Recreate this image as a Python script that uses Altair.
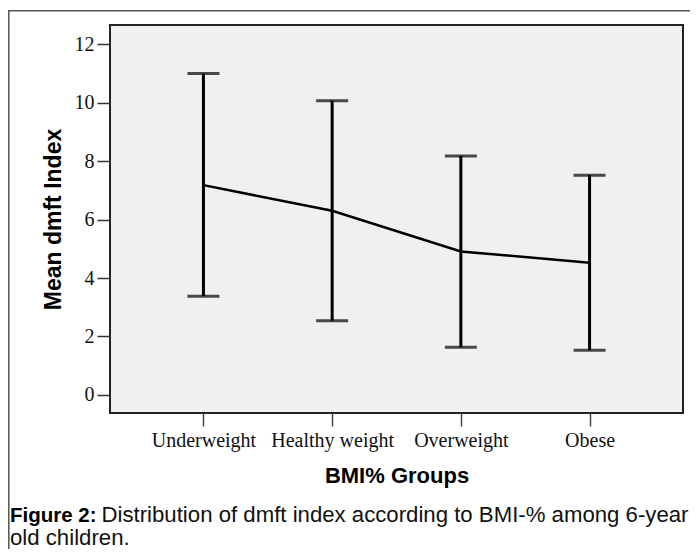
import altair as alt
import pandas as pd

groups = ["Underweight", "Healthy weight", "Overweight", "Obese"]
means = [7.18, 6.30, 4.91, 4.52]
lower = [3.38, 2.54, 1.63, 1.53]
upper = [11.0, 10.07, 8.18, 7.52]
y_ticks = [0, 2, 4, 6, 8, 10, 12]

caption_bold = "Figure 2:"
caption_line1 = "Distribution of dmft index according to BMI-% among 6-year"
caption_line2 = "old children."

df = pd.DataFrame({"group": groups, "mean": means, "lower": lower, "upper": upper})

W, H = 573, 388

x_enc = alt.X(
    "group:N",
    sort=groups,
    scale=alt.Scale(type="point", padding=0.726),
    axis=alt.Axis(
        title="BMI% Groups",
        titleFont="Liberation Sans", titleFontSize=22, titleFontWeight="bold",
        titleColor="#000", titleBaseline="alphabetic", titleY=69, titleX=W / 2,
        labelFont="Liberation Serif", labelFontSize=20, labelColor="#111",
        labelBaseline="alphabetic", labelPadding=20, labelAngle=0,
        tickSize=13, tickColor="#444", tickWidth=1.5,
        domain=False, grid=False,
    ),
)

y_scale = alt.Scale(domain=[-0.62, 12.66], nice=False, zero=False)
y_axis = alt.Axis(
    title="Mean dmft Index", values=y_ticks,
    titleFont="Liberation Sans", titleFontSize=23, titleFontWeight="bold",
    titleColor="#000", titleBaseline="alphabetic", titleX=-50, titleY=H / 2,
    titleAngle=270,
    labelFont="Liberation Serif", labelFontSize=20, labelColor="#111",
    labelPadding=3, tickSize=13, tickColor="#333", tickWidth=1.5,
    domain=False, grid=False,
)

base = alt.Chart(df)

rules = base.mark_rule(color="#000", strokeWidth=3).encode(
    x=x_enc,
    y=alt.Y("lower:Q", scale=y_scale, axis=y_axis),
    y2="upper:Q",
)
cap_hi = base.mark_tick(color="#000", size=32, thickness=3, orient="horizontal").encode(
    x=alt.X("group:N", sort=groups), y=alt.Y("upper:Q")
)
cap_lo = base.mark_tick(color="#000", size=32, thickness=3, orient="horizontal").encode(
    x=alt.X("group:N", sort=groups), y=alt.Y("lower:Q")
)
line = base.mark_line(color="#000", strokeWidth=2.5).encode(
    x=alt.X("group:N", sort=groups), y=alt.Y("mean:Q")
)

frame_df = pd.DataFrame({"k": [0]})
frame = alt.Chart(frame_df).mark_rect(fill=None, stroke="#555", strokeWidth=1.5).encode(
    x=alt.value(-101.2), y=alt.value(-14.3), x2=alt.value(W + 40), y2=alt.value(H + 200)
)

cap_df1 = pd.DataFrame({"t": [caption_bold]})
cap_df2 = pd.DataFrame({"t": [caption_line1]})
cap_df3 = pd.DataFrame({"t": [caption_line2]})
cap1 = alt.Chart(cap_df1).mark_text(
    font="Liberation Sans", fontSize=20.5, fontWeight="bold", align="left",
    baseline="alphabetic", color="#000"
).encode(text="t:N", x=alt.value(-100), y=alt.value(496.7))
cap2 = alt.Chart(cap_df2).mark_text(
    font="Liberation Sans", fontSize=22.2, align="left",
    baseline="alphabetic", color="#111"
).encode(text="t:N", x=alt.value(-8.5), y=alt.value(496.7))
cap3 = alt.Chart(cap_df3).mark_text(
    font="Liberation Sans", fontSize=22.2, align="left",
    baseline="alphabetic", color="#111"
).encode(text="t:N", x=alt.value(-100), y=alt.value(520))

chart = alt.layer(frame, rules, cap_hi, cap_lo, line, cap1, cap2, cap3).properties(
    width=W, height=H,
    autosize=alt.AutoSizeParams(type="none"),
    padding={"left": 102, "top": 17, "right": 7, "bottom": 136},
    background="#ffffff",
).configure_view(
    fill="#f0f0f0", stroke="#222", strokeWidth=2
)

chart.save("out.html", embed_options={"renderer": "svg", "actions": False})
